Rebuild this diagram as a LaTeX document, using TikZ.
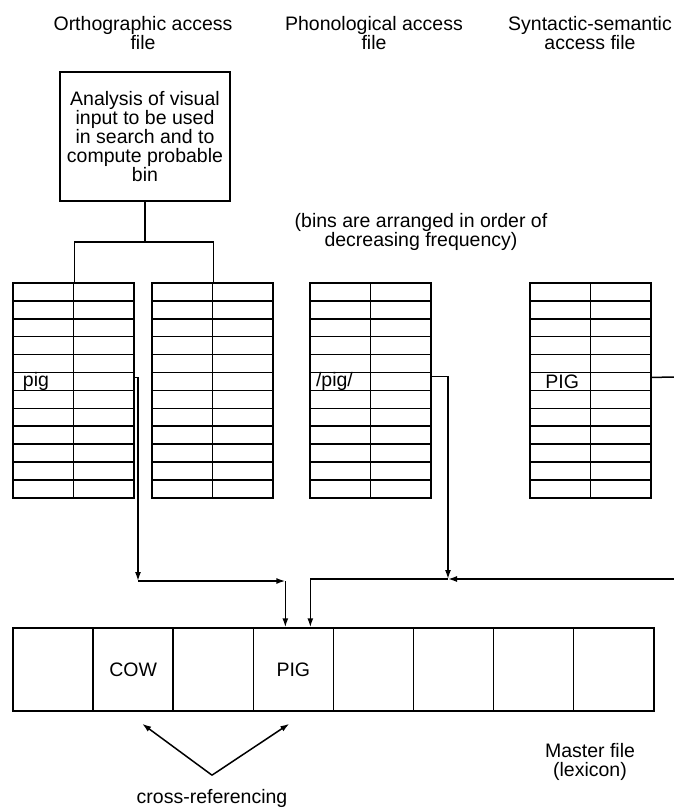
\documentclass[tikz,border=0pt]{standalone}
\usepackage{fontspec}
\setmainfont{Liberation Sans}
\usetikzlibrary{arrows.meta}

\begin{document}
\begin{tikzpicture}[x=1pt,y=-1pt,>={Latex[length=9pt,width=6pt]},line width=1.5pt,
  every node/.style={inner sep=0pt,font=\fontsize{19.5}{19.5}\selectfont},
  cell/.style={draw,minimum width=60.5,minimum height=17.9},
  mcell/.style={draw,minimum width=80.1,minimum height=83}]
\useasboundingbox (0,0) rectangle (674,809);
% file headings
\node[align=center] (orthhead) at (143,33){Orthographic access\\file};
\node[align=center] (phonhead) at (374,33){Phonological access\\file};
\node[align=center] (synhead) at (590,33){Syntactic-semantic\\access file};
\node[draw,align=center,minimum width=170,minimum height=129,font=\fontsize{19.5}{18.8}\selectfont] (analysis) at (145,136.5)
  {Analysis of visual\\input to be used\\in search and to\\compute probable\\bin};
\node[align=center,font=\fontsize{19.5}{18.5}\selectfont] (binnote) at (421,232){(bins are arranged in order of\\decreasing frequency)};
% bins: two columns, twelve rows each
\foreach \b/\x in {o1/13,o2/152,ph/310,sy/530}{
  \foreach \r in {1,...,12}{
    \node[cell] (\b-\r-a) at (\x+30.25,274.05+\r*17.9){};
    \node[cell] (\b-\r-b) at (\x+90.75,274.05+\r*17.9){};
  }
}
\node[anchor=west] (orthpig) at ([xshift=10]o1-6-a.west){pig};
\node[anchor=west] (phonpig) at ([xshift=6]ph-6-a.west){/pig/};
\node (synpig) at ([xshift=2]sy-6-a){PIG};
\coordinate (split) at (145,242);
\draw (analysis) -- (split);
\draw (o1-1-a.north east) |- (split) -| (o2-1-a.north east);
% master file
\foreach \i in {1,...,8}{\node[mcell] (m\i) at (53.05+\i*80.1-80.1,669.5){};}
\node (cow) at (m2){COW};
\node (pig) at (m4){PIG};
\node[align=center] (master) at (590,762){Master file\\(lexicon)};
\node (xref) at (212,798){cross-referencing};
% links to the master file
\coordinate (in1) at ([xshift=-8]m4.north);
\coordinate (in2) at ([xshift=17]m4.north);
\coordinate (obend) at (138,581);
\coordinate (pbend) at (448,579);
\coordinate (sright) at (674,377);
\draw[->] ([yshift=4]o1-6-b.east) -| (obend);
\draw[->] (obend) -- (obend -| in1);
\draw[->] (obend -| in1) -- (in1);
\draw[->] ([yshift=5]ph-6-b.east) -| (pbend);
\draw ([yshift=4]sy-6-b.east) -- (sright);
\draw[->] (sright |- pbend) -- (pbend);
\draw[->] (pbend) -| (in2);
\coordinate (xroot) at ([yshift=13]xref.north);
\draw[->] (xroot) -- ([xshift=9,yshift=-12]m2.south);
\draw[->] (xroot) -- ([xshift=-4,yshift=-12]m4.south);
\end{tikzpicture}
\end{document}
